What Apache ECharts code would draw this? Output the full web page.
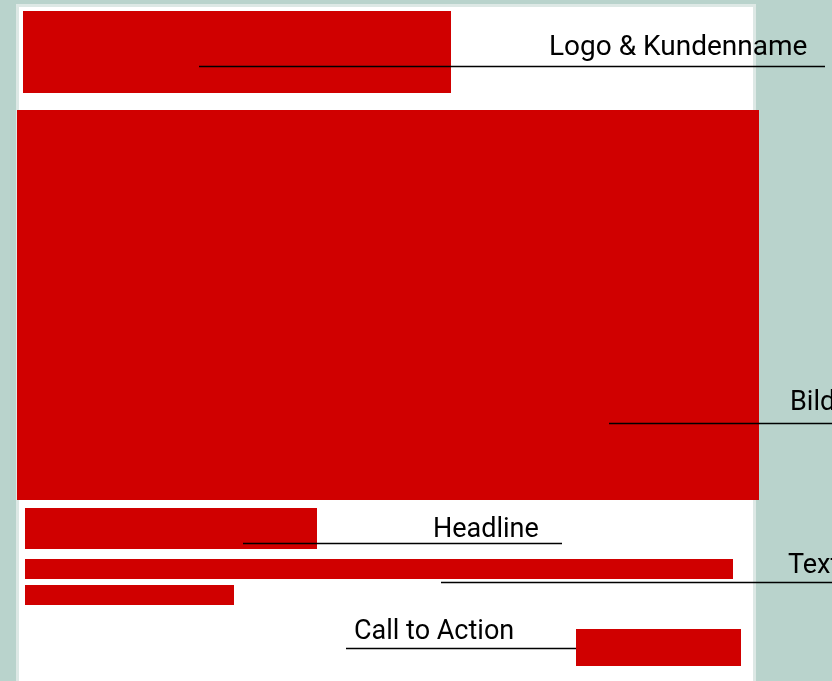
<!DOCTYPE html>
<html>
<head>
<meta charset="utf-8">
<title>Layout</title>
<script src="https://cdn.jsdelivr.net/npm/echarts@6/dist/echarts.min.js"></script>
<style>
  html, body { margin: 0; padding: 0; background: #b9d3cc; }
  #main { width: 832px; height: 681px; }
</style>
</head>
<body>
<div id="main"></div>
<script>
// Wireframe geometry, in page units (x to the right, y downwards)
var panelBox = [[17.5, 5.5, 754.5, 700]];
var redBoxes = [
  [23, 11, 451, 93],     // Logo
  [17, 110, 759, 500],   // Bild
  [25, 508, 317, 549],   // Headline
  [25, 559, 733, 579],   // Text Zeile 1
  [25, 585, 234, 605],   // Text Zeile 2
  [576, 629, 741, 666]   // Call to Action
];
// leader lines: [x start, y, x end]
var leaderLines = [
  [199, 66.5, 825],
  [609, 423.5, 832],
  [243, 543.5, 562],
  [441, 582.5, 832],
  [346, 648.5, 576]
];
var labelNames = ['Logo & Kundenname', 'Bild', 'Headline', 'Text', 'Call to Action'];
var labelX = [549, 790, 433, 788, 354];
var labelBaseline = [55, 410, 537, 573, 639];
var labelSize = [28, 27, 27, 27, 27];

var chart = echarts.init(document.getElementById('main'));

function rectItem(params, api) {
  var p0 = api.coord([api.value(0), api.value(1)]);
  var p1 = api.coord([api.value(2), api.value(3)]);
  return {
    type: 'rect',
    shape: { x: p0[0], y: p0[1], width: p1[0] - p0[0], height: p1[1] - p0[1] },
    style: api.style()
  };
}

var option = {
  backgroundColor: '#b9d3cc',
  animation: false,
  grid: { left: 0, right: 0, top: 0, bottom: 0 },
  xAxis: { type: 'value', min: 0, max: 832, show: false },
  yAxis: { type: 'value', min: 0, max: 681, inverse: true, show: false },
  series: [
    {
      type: 'custom',
      renderItem: rectItem,
      itemStyle: { color: '#ffffff', borderColor: '#dde8e5', borderWidth: 3 },
      data: panelBox
    },
    {
      type: 'custom',
      renderItem: rectItem,
      itemStyle: { color: '#d00000' },
      data: redBoxes
    },
    {
      type: 'custom',
      renderItem: function (params, api) {
        var a = api.coord([api.value(0), api.value(1)]);
        var b = api.coord([api.value(2), api.value(1)]);
        return {
          type: 'line',
          shape: { x1: a[0], y1: a[1], x2: b[0], y2: b[1] },
          style: { stroke: '#000000', lineWidth: 1.3 }
        };
      },
      data: leaderLines
    },
    {
      type: 'custom',
      renderItem: function (params, api) {
        var p = api.coord([api.value(0), api.value(1)]);
        var size = labelSize[params.dataIndex];
        return {
          type: 'text',
          x: p[0],
          y: p[1],
          style: {
            text: labelNames[params.dataIndex],
            fill: '#000000',
            font: size + 'px Roboto, "Liberation Sans", sans-serif',
            textAlign: 'left',
            textVerticalAlign: 'bottom'
          }
        };
      },
      // text box bottom sits a little below the baseline (descender room)
      data: labelX.map(function (x, i) { return [x, labelBaseline[i] + 7]; })
    }
  ]
};
chart.setOption(option);
</script>
</body>
</html>
